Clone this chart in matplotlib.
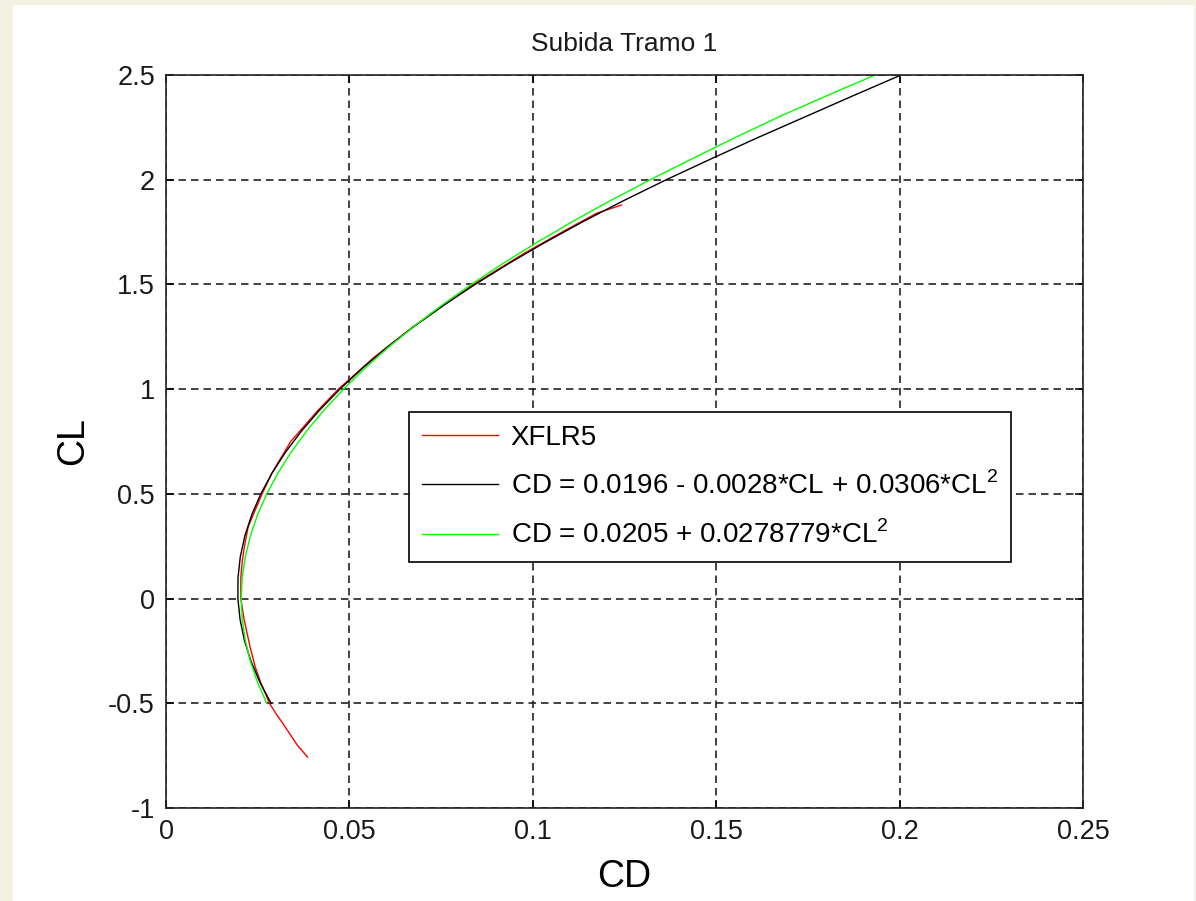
import matplotlib
matplotlib.use("Agg")
import matplotlib.pyplot as plt
from matplotlib.patches import Rectangle

plt.rcParams['font.family'] = ['Liberation Sans', 'DejaVu Sans']
plt.rcParams['mathtext.fontset'] = 'custom'
plt.rcParams['mathtext.rm'] = 'Liberation Sans'

# XFLR5 polar
xflr_cl = [-0.757, -0.7, -0.65, -0.6, -0.55, -0.5, -0.4, -0.325, -0.23, -0.1, 0.0, 0.1, 0.18,
           0.25, 0.343, 0.5, 0.6, 0.75, 0.9, 1.0, 1.15, 1.3, 1.5, 1.65, 1.75, 1.84, 1.879]
xflr_cd = [0.0386, 0.0358, 0.0339, 0.0320, 0.0300, 0.0282, 0.0258, 0.0243, 0.0229, 0.0213,
           0.0204, 0.0204, 0.0208, 0.0214, 0.0224, 0.0262, 0.0289, 0.0340, 0.0415, 0.0470,
           0.0566, 0.0675, 0.0838, 0.0978, 0.1080, 0.1174, 0.1242]

# fitted polars
fit_cl = [-0.5, -0.4, -0.3, -0.2, -0.1, 0.0, 0.1, 0.2, 0.3, 0.4, 0.5, 0.6, 0.7, 0.8, 0.9,
          1.0, 1.1, 1.2, 1.3, 1.4, 1.5, 1.6, 1.7, 1.8, 1.9, 2.0, 2.1, 2.2, 2.3, 2.4, 2.5]
fit1_cd = [0.02865, 0.02562, 0.02319, 0.02138, 0.02019, 0.01960, 0.01963, 0.02026, 0.02151,
           0.02338, 0.02585, 0.02894, 0.03263, 0.03694, 0.04187, 0.04740, 0.05355, 0.06030,
           0.06767, 0.07566, 0.08425, 0.09346, 0.10327, 0.11370, 0.12475, 0.13640, 0.14867,
           0.16120, 0.17420, 0.18720, 0.20040]
fit2_cd = [0.02747, 0.02496, 0.02301, 0.02162, 0.02078, 0.02050, 0.02078, 0.02162, 0.02301,
           0.02496, 0.02747, 0.03054, 0.03416, 0.03834, 0.04308, 0.04838, 0.05423, 0.06064,
           0.06761, 0.07514, 0.08323, 0.09187, 0.10107, 0.11082, 0.12114, 0.13201, 0.14344,
           0.15500, 0.16710, 0.18000, 0.19330]

labels = ['XFLR5',
          r'CD = 0.0196 - 0.0028*CL + 0.0306*CL$^2$',
          r'CD = 0.0205 + 0.0278779*CL$^2$']

xticks = [0, 0.05, 0.1, 0.15, 0.2, 0.25]
xtick_labels = ['0', '0.05', '0.1', '0.15', '0.2', '0.25']
yticks = [-1, -0.5, 0, 0.5, 1, 1.5, 2, 2.5]
ytick_labels = ['-1', '-0.5', '0', '0.5', '1', '1.5', '2', '2.5']

fig = plt.figure(figsize=(11.96, 9.01), dpi=100, facecolor='#f3f1e1')
fig.patches.append(Rectangle((13 / 1196, 0), (1194 - 13) / 1196, (901 - 5) / 901,
                             transform=fig.transFigure, facecolor='white',
                             edgecolor='none', zorder=-10))
ax = fig.add_axes([166 / 1196, 1 - 808 / 901, (1083 - 166) / 1196, (808 - 75) / 901])

ax.plot(xflr_cd, xflr_cl, color='#ff0000', lw=1.0, label=labels[0])
ax.plot(fit1_cd, fit_cl, color='black', lw=1.0, label=labels[1])
ax.plot(fit2_cd, fit_cl, color='#00ff00', lw=1.0, label=labels[2])

ax.set_xlim(0, 0.25)
ax.set_ylim(-1, 2.5)
ax.set_xticks(xticks)
ax.set_xticklabels(xtick_labels)
ax.set_yticks(yticks)
ax.set_yticklabels(ytick_labels)
ax.tick_params(direction='in', length=6, width=1.1, top=True, right=True,
               labelsize=19.5, labelcolor='#1a1a1a', pad=8)
ax.grid(True, color='#222222', lw=1.2, linestyle=(0, (4.5, 3)))
for s in ax.spines.values():
    s.set_linewidth(1.2)
    s.set_color('#222222')

ax.set_title('Subida Tramo 1', fontsize=19, color='#1a1a1a', pad=17)
ax.set_xlabel('CD', fontsize=27, labelpad=10)
ax.set_ylabel('CL', fontsize=27, labelpad=12)

leg = ax.legend(loc='upper left', bbox_to_anchor=(0.2655, 0.540), borderaxespad=0,
                fontsize=20, handlelength=2.75, handletextpad=0.45, borderpad=0.45,
                labelspacing=0.75, fancybox=False, framealpha=1, edgecolor='black')
leg.get_frame().set_linewidth(1.2)

fig.savefig('out.png', dpi=100, facecolor=fig.get_facecolor())
